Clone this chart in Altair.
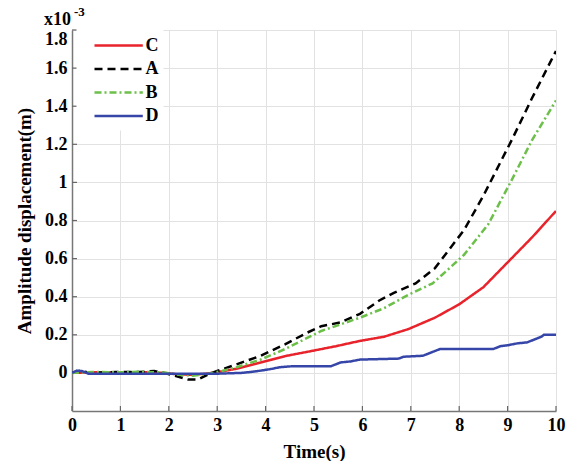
import altair as alt
import pandas as pd

# ---------------- data (in units of 1e-3 m) ----------------
series_names = ["C", "A", "B", "D"]
series_colors = ["#e8232b", "#000000", "#6cc04a", "#3646a8"]
series_dashes = [[1, 0], [8, 5], [7, 3, 2, 3], [1, 0]]

c_x = [0, 0.4, 0.9, 1.4, 1.9, 2.2, 2.5, 2.8, 3.1, 3.4, 3.9, 4.4, 4.95, 5.45, 5.95, 6.45, 6.95,
       7.5, 8, 8.5, 9, 9.5, 10]
c_y = [0, 0.003, 0.002, 0.004, 0.0, -0.008, -0.01, -0.003, 0.008, 0.022, 0.055, 0.088, 0.115,
       0.14, 0.168, 0.19, 0.23, 0.29, 0.36, 0.45, 0.58, 0.71, 0.85]

a_x = [0, 0.15, 0.4, 0.9, 1.4, 1.7, 1.9, 2.2, 2.4, 2.6, 2.8, 3.0, 3.4, 3.9, 4.4, 4.85, 5.15,
       5.55, 5.95, 6.35, 6.65, 7.1, 7.5, 7.8, 8.1, 8.5, 9.1, 9.5, 10]
a_y = [0, 0.01, 0.0, 0.005, 0.005, 0.01, 0.0, -0.02, -0.035, -0.035, -0.01, 0.01, 0.045, 0.09,
       0.15, 0.21, 0.245, 0.265, 0.31, 0.38, 0.42, 0.47, 0.55, 0.65, 0.75, 0.93, 1.23, 1.44, 1.69]

b_x = [0, 0.4, 0.9, 1.4, 1.9, 2.2, 2.5, 2.8, 3.1, 3.4, 3.9, 4.4, 4.75, 5.15, 5.55, 5.95, 6.45,
       6.95, 7.45, 7.8, 8.1, 8.6, 9.1, 9.5, 10]
b_y = [0, 0.005, 0.003, 0.006, 0.002, -0.01, -0.015, -0.005, 0.01, 0.03, 0.07, 0.125, 0.17,
       0.22, 0.255, 0.29, 0.34, 0.41, 0.47, 0.55, 0.62, 0.78, 1.02, 1.22, 1.43]

d_x = [0, 0.1, 0.2, 0.35, 0.9, 1.9, 2.4, 2.9, 3.5, 3.7, 3.9, 4.1, 4.3, 4.55, 5.35, 5.45, 5.55,
       5.75, 5.95, 6.75, 6.85, 7.25, 7.35, 7.45, 7.6, 8.7, 8.85, 9.0, 9.2, 9.4, 9.5, 9.6, 9.7,
       9.75, 10]
d_y = [0, 0.012, 0.01, -0.005, -0.005, -0.005, -0.005, -0.005, 0.0, 0.005, 0.012, 0.02, 0.03,
       0.035, 0.035, 0.045, 0.055, 0.06, 0.07, 0.075, 0.085, 0.09, 0.1, 0.11, 0.125, 0.125,
       0.14, 0.145, 0.155, 0.16, 0.17, 0.18, 0.19, 0.2, 0.2]

x_ticks = [0, 1, 2, 3, 4, 5, 6, 7, 8, 9, 10]
y_ticks = [0, 0.2, 0.4, 0.6, 0.8, 1, 1.2, 1.4, 1.6, 1.8]

rows = []
for name, xs, ys in [("C", c_x, c_y), ("A", a_x, a_y), ("B", b_x, b_y), ("D", d_x, d_y)]:
    for xv, yv in zip(xs, ys):
        rows.append({"series": name, "t": xv, "amp": yv})
df = pd.DataFrame(rows)

# ---------------- chart ----------------
W, H = 484, 381
FONT = "Liberation Serif"

x_enc = alt.X(
    "t:Q",
    scale=alt.Scale(domain=[0, 10], nice=False, zero=False),
    axis=alt.Axis(title="Time(s)", values=x_ticks, format="d", ticks=False,
                  labelFlush=False, labelPadding=5, titlePadding=8),
)
y_enc = alt.Y(
    "amp:Q",
    scale=alt.Scale(domain=[-0.2, 1.8], nice=False, zero=False),
    axis=alt.Axis(title="Amplitude displacement(m)", values=y_ticks, format="~g", ticks=False,
                  labelFlush=True, labelPadding=5, titlePadding=10),
)

legend = alt.Legend(
    title=None, orient="none", legendX=4.5, legendY=-2.5,
    symbolType="M0,0H4.2", symbolSize=529, symbolStrokeWidth=2.5,
    labelFont=FONT, labelFontSize=18, labelFontWeight="bold", labelColor="black",
    labelOffset=38, rowPadding=1.5, padding=5, fillColor="white",
)

lines = alt.Chart(df).mark_line(strokeWidth=2.5, clip=True).encode(
    x=x_enc,
    y=y_enc,
    color=alt.Color("series:N", scale=alt.Scale(domain=series_names, range=series_colors), legend=legend),
    strokeDash=alt.StrokeDash("series:N", scale=alt.Scale(domain=series_names, range=series_dashes), legend=legend),
)

xt = alt.Chart(pd.DataFrame({"t": x_ticks})).mark_rule(color="#666", strokeWidth=1.2).encode(
    x=x_enc, y=alt.value(H), y2=alt.value(H - 5)
)
yt = alt.Chart(pd.DataFrame({"amp": y_ticks})).mark_rule(color="#666", strokeWidth=1.2).encode(
    y=y_enc, x=alt.value(0), x2=alt.value(5)
)

one = pd.DataFrame({"k": [0]})
mult = alt.Chart(one).mark_text(font=FONT, fontSize=18, fontWeight="bold", align="right",
                                baseline="alphabetic", color="black").encode(
    x=alt.value(-1), y=alt.value(-5), text=alt.value("x10")
)
expo = alt.Chart(one).mark_text(font=FONT, fontSize=13, fontWeight="bold", align="left",
                                baseline="alphabetic", color="black").encode(
    x=alt.value(2), y=alt.value(-14), text=alt.value("-3")
)

chart = alt.layer(xt, yt, lines, mult, expo).properties(
    width=W, height=H,
    autosize=alt.AutoSizeParams(type="none"),
    padding={"left": 72, "top": 30, "right": 15, "bottom": 50},
    background="white",
).configure_view(stroke=None).configure_axis(
    domainColor="#777", domainWidth=1.5,
    gridColor="#e2e2e2", gridWidth=1,
    labelFont=FONT, labelFontSize=18, labelFontWeight="bold", labelColor="black",
    titleFont=FONT, titleFontSize=19, titleFontWeight="bold", titleColor="black",
)

chart.save("out.html", embed_options={"renderer": "svg", "actions": False})
